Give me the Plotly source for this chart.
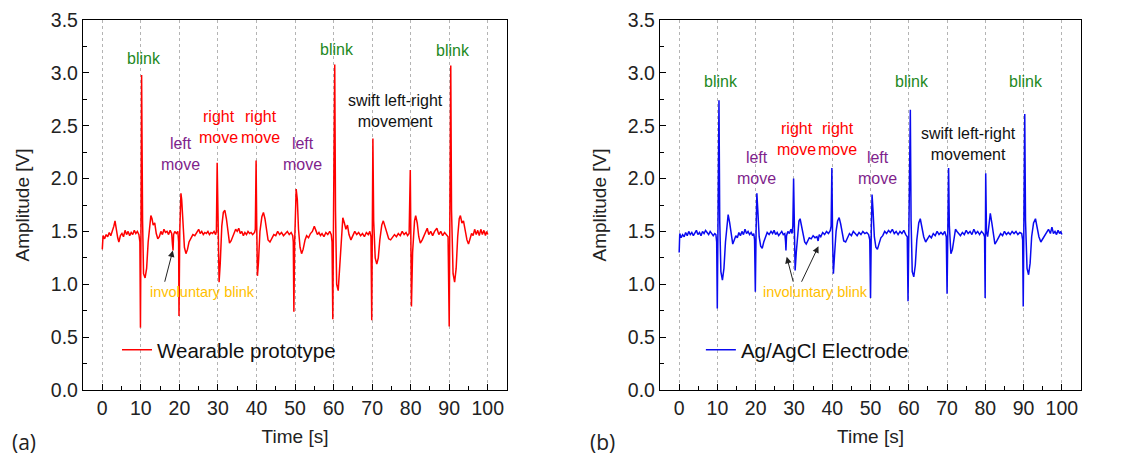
import plotly.graph_objects as go

# ---------------- data ----------------
t_wear = [0.0, 0.2, 0.6, 1.0, 1.4, 1.8, 2.2, 2.6, 3.0, 3.3, 3.6, 4.0, 4.3, 4.7, 5.1, 5.5, 5.9, 6.3, 6.7, 7.1,
          7.5, 7.9, 8.3, 8.7, 9.1, 9.5, 9.75, 9.9, 10.05, 10.2, 10.45, 10.7, 11.1, 11.5, 11.9, 12.3, 12.6, 12.9,
          13.2, 13.6, 14.0, 14.4, 14.8, 15.2, 15.6, 16.0, 16.4, 16.8, 17.2, 17.6, 18.0, 18.2, 18.35, 18.5, 18.8,
          19.2, 19.6, 19.8, 19.9, 20.1, 20.4, 20.6, 20.9, 21.3, 21.7, 22.1, 22.5, 23.0, 23.5, 24.0, 24.5, 25.0,
          25.4, 25.8, 26.2, 26.6, 27.0, 27.4, 27.8, 28.2, 28.6, 29.0, 29.4, 29.6, 29.8, 30.0, 30.3, 30.6, 31.0,
          31.4, 31.8, 32.2, 32.6, 33.0, 33.4, 33.8, 34.2, 34.6, 35.0, 35.4, 35.8, 36.2, 36.6, 37.0, 37.4, 37.8,
          38.2, 38.6, 39.0, 39.5, 39.7, 39.9, 40.05, 40.25, 40.5, 40.9, 41.4, 41.8, 42.2, 42.6, 43.0, 43.5, 44.0,
          44.5, 45.0, 45.5, 46.0, 46.5, 47.0, 47.5, 48.0, 48.5, 49.0, 49.4, 49.55, 49.7, 49.9, 50.3, 50.6, 50.9,
          51.3, 51.7, 52.1, 52.6, 53.0, 53.5, 54.0, 54.5, 55.0, 55.4, 55.8, 56.2, 56.6, 57.0, 57.5, 58.0, 58.5,
          59.0, 59.4, 59.6, 59.8, 60.0, 60.3, 60.5, 60.8, 61.2, 61.6, 62.0, 62.4, 62.8, 63.2, 63.6, 64.0, 64.5,
          65.0, 65.5, 66.0, 66.5, 67.0, 67.5, 68.0, 68.5, 69.0, 69.4, 69.7, 69.9, 70.05, 70.2, 70.4, 70.8, 71.2,
          71.6, 72.0, 72.5, 72.9, 73.3, 73.8, 74.3, 74.8, 75.3, 75.8, 76.3, 76.8, 77.3, 77.8, 78.3, 78.8, 79.2,
          79.6, 79.9, 80.05, 80.2, 80.5, 81.0, 81.3, 81.7, 82.1, 82.5, 83.0, 83.5, 84.0, 84.3, 84.7, 85.2, 85.7,
          86.2, 86.8, 87.3, 87.8, 88.3, 88.8, 89.3, 89.7, 90.0, 90.2, 90.4, 90.6, 91.0, 91.4, 91.8, 92.2, 92.6,
          92.9, 93.3, 93.7, 94.1, 94.6, 95.0, 95.4, 95.8, 96.2, 96.6, 97.0, 97.4, 97.8, 98.2, 98.6, 99.0, 99.4,
          99.7, 100.0]
v_wear = [1.33, 1.46, 1.43, 1.47, 1.45, 1.49, 1.46, 1.50, 1.55, 1.60, 1.52, 1.44, 1.40, 1.46, 1.48, 1.45, 1.51,
          1.47, 1.50, 1.46, 1.49, 1.47, 1.51, 1.48, 1.50, 1.47, 1.40, 0.59, 1.60, 2.98, 1.60, 1.10, 1.06, 1.15,
          1.40, 1.55, 1.65, 1.62, 1.56, 1.58, 1.48, 1.43, 1.45, 1.50, 1.47, 1.52, 1.49, 1.50, 1.47, 1.51, 1.48,
          1.38, 1.32, 1.47, 1.50, 1.48, 1.50, 1.40, 0.70, 1.50, 1.86, 1.80, 1.55, 1.35, 1.29, 1.33, 1.40, 1.44,
          1.47, 1.46, 1.49, 1.52, 1.48, 1.50, 1.47, 1.49, 1.48, 1.50, 1.47, 1.49, 1.48, 1.50, 1.47, 1.50, 2.15,
          1.60, 1.02, 1.20, 1.55, 1.68, 1.70, 1.62, 1.48, 1.39, 1.41, 1.45, 1.48, 1.52, 1.50, 1.53, 1.48, 1.50,
          1.46, 1.49, 1.47, 1.50, 1.48, 1.49, 1.47, 1.49, 1.52, 2.17, 1.60, 1.08, 1.20, 1.50, 1.64, 1.68, 1.62,
          1.50, 1.42, 1.40, 1.44, 1.47, 1.46, 1.50, 1.47, 1.49, 1.46, 1.48, 1.50, 1.47, 1.49, 1.46, 1.40, 0.74,
          1.40, 1.90, 1.80, 1.52, 1.35, 1.29, 1.33, 1.42, 1.46, 1.44, 1.48, 1.50, 1.55, 1.51, 1.47, 1.49, 1.46,
          1.48, 1.45, 1.49, 1.47, 1.50, 1.47, 1.40, 0.67, 1.70, 3.08, 1.70, 1.00, 0.94, 1.15, 1.45, 1.63, 1.58,
          1.52, 1.56, 1.47, 1.42, 1.46, 1.50, 1.47, 1.49, 1.46, 1.48, 1.45, 1.49, 1.47, 1.50, 1.45, 0.66, 1.50,
          2.38, 1.60, 1.25, 1.19, 1.25, 1.42, 1.56, 1.60, 1.55, 1.47, 1.43, 1.42, 1.45, 1.47, 1.45, 1.48, 1.46,
          1.50, 1.47, 1.49, 1.46, 1.48, 2.08, 1.40, 0.79, 1.30, 1.60, 1.65, 1.58, 1.45, 1.39, 1.42, 1.47, 1.50,
          1.53, 1.47, 1.50, 1.46, 1.50, 1.53, 1.47, 1.50, 1.46, 1.49, 1.47, 1.45, 0.60, 1.60, 3.07, 1.70, 1.10,
          1.02, 1.15, 1.45, 1.62, 1.65, 1.58, 1.60, 1.52, 1.42, 1.38, 1.42, 1.48, 1.46, 1.52, 1.47, 1.51, 1.46,
          1.52, 1.47, 1.51, 1.46, 1.50, 1.47]

t_agcl = [0.0, 0.15, 0.5, 0.9, 1.3, 1.7, 2.1, 2.5, 2.9, 3.3, 3.7, 4.1, 4.5, 4.9, 5.3, 5.7, 6.1, 6.5, 6.9, 7.3,
          7.7, 8.1, 8.5, 8.9, 9.3, 9.6, 9.8, 9.96, 10.15, 10.4, 10.6, 10.9, 11.3, 11.7, 12.1, 12.5, 12.8, 13.2,
          13.6, 14.0, 14.4, 14.8, 15.2, 15.6, 16.0, 16.4, 16.8, 17.2, 17.6, 18.0, 18.4, 18.8, 19.2, 19.5, 19.7,
          19.9, 20.1, 20.3, 20.55, 20.9, 21.3, 21.7, 22.1, 22.6, 23.0, 23.5, 24.0, 24.4, 24.8, 25.2, 25.6, 26.0,
          26.4, 26.8, 27.2, 27.6, 27.8, 27.9, 28.05, 28.4, 28.8, 29.2, 29.5, 29.7, 29.9, 30.1, 30.3, 30.6, 31.0,
          31.3, 31.6, 32.0, 32.4, 32.8, 33.2, 33.6, 34.0, 34.5, 35.0, 35.5, 36.0, 36.3, 36.6, 37.0, 37.5, 38.0,
          38.5, 39.0, 39.5, 39.7, 39.9, 40.1, 40.3, 40.6, 41.0, 41.4, 41.8, 42.2, 42.6, 43.0, 43.5, 44.0, 44.5,
          45.0, 45.5, 46.0, 46.5, 47.0, 47.5, 48.0, 48.5, 49.0, 49.5, 49.8, 50.0, 50.2, 50.4, 50.65, 51.0, 51.4,
          51.8, 52.2, 52.7, 53.2, 53.7, 54.2, 54.7, 55.2, 55.7, 56.2, 56.7, 57.2, 57.7, 58.2, 58.7, 59.2, 59.6,
          59.8, 60.0, 60.4, 60.6, 60.9, 61.3, 61.7, 62.1, 62.6, 63.0, 63.4, 63.9, 64.4, 64.9, 65.4, 65.9, 66.4,
          66.9, 67.4, 67.9, 68.4, 68.9, 69.4, 69.8, 70.0, 70.2, 70.4, 70.6, 71.0, 71.4, 71.8, 72.2, 72.6, 73.0,
          73.5, 74.0, 74.5, 75.0, 75.5, 76.0, 76.5, 77.0, 77.5, 78.0, 78.5, 79.0, 79.5, 79.8, 79.95, 80.1, 80.3,
          80.6, 81.0, 81.3, 81.7, 82.1, 82.5, 83.0, 83.5, 84.0, 84.5, 85.0, 85.5, 86.0, 86.5, 87.0, 87.5, 88.0,
          88.5, 89.0, 89.5, 89.75, 89.9, 90.1, 90.3, 90.5, 90.9, 91.3, 91.7, 92.1, 92.6, 93.1, 93.5, 94.0, 94.5,
          95.0, 95.5, 96.0, 96.5, 97.0, 97.4, 97.8, 98.2, 98.6, 99.0, 99.4, 99.7, 100.0]
v_agcl = [1.30, 1.48, 1.44, 1.47, 1.45, 1.49, 1.46, 1.50, 1.47, 1.49, 1.46, 1.48, 1.51, 1.47, 1.49, 1.46, 1.50,
          1.48, 1.51, 1.49, 1.47, 1.50, 1.48, 1.46, 1.48, 1.47, 1.40, 0.77, 1.60, 2.74, 1.60, 1.12, 1.04, 1.15,
          1.40, 1.60, 1.66, 1.58, 1.45, 1.38, 1.42, 1.46, 1.44, 1.49, 1.46, 1.50, 1.47, 1.52, 1.48, 1.50, 1.47,
          1.49, 1.46, 1.48, 1.42, 0.93, 1.50, 1.86, 1.70, 1.45, 1.36, 1.34, 1.40, 1.46, 1.49, 1.47, 1.50, 1.48,
          1.51, 1.47, 1.49, 1.46, 1.48, 1.50, 1.47, 1.48, 1.40, 1.32, 1.46, 1.50, 1.48, 1.52, 1.48, 1.55, 2.00,
          1.40, 1.13, 1.30, 1.52, 1.60, 1.62, 1.55, 1.45, 1.40, 1.38, 1.41, 1.44, 1.43, 1.46, 1.44, 1.45, 1.41,
          1.47, 1.45, 1.49, 1.47, 1.50, 1.48, 1.51, 1.55, 2.10, 1.40, 1.10, 1.28, 1.50, 1.60, 1.63, 1.57, 1.47,
          1.41, 1.40, 1.44, 1.48, 1.46, 1.50, 1.48, 1.46, 1.49, 1.47, 1.50, 1.48, 1.49, 1.47, 1.42, 0.87, 1.50,
          1.85, 1.70, 1.45, 1.35, 1.33, 1.38, 1.44, 1.46, 1.50, 1.48, 1.51, 1.49, 1.52, 1.48, 1.50, 1.47, 1.50,
          1.48, 1.51, 1.47, 1.45, 0.84, 1.60, 2.65, 1.60, 1.12, 1.07, 1.18, 1.42, 1.58, 1.62, 1.55, 1.45, 1.40,
          1.43, 1.46, 1.44, 1.48, 1.46, 1.50, 1.47, 1.49, 1.47, 1.50, 1.45, 0.91, 1.50, 2.10, 1.55, 1.29, 1.33,
          1.45, 1.52, 1.50, 1.48, 1.46, 1.49, 1.47, 1.51, 1.48, 1.50, 1.47, 1.52, 1.48, 1.50, 1.47, 1.50, 1.48,
          1.45, 0.87, 2.05, 1.50, 1.45, 1.60, 1.67, 1.58, 1.45, 1.38, 1.41, 1.45, 1.48, 1.46, 1.50, 1.47, 1.49,
          1.47, 1.50, 1.48, 1.50, 1.47, 1.49, 1.48, 1.42, 0.79, 1.50, 2.61, 1.60, 1.15, 1.09, 1.20, 1.45, 1.58,
          1.62, 1.55, 1.45, 1.40, 1.43, 1.47, 1.50, 1.52, 1.48, 1.54, 1.48, 1.50, 1.47, 1.51, 1.48, 1.50, 1.47]

x_ticks = [0, 10, 20, 30, 40, 50, 60, 70, 80, 90, 100]
y_ticks = [0.0, 0.5, 1.0, 1.5, 2.0, 2.5, 3.0, 3.5]

# event labels: (text, t, v, colour)
GREEN, PURPLE, RED, BLACK, GOLD = "#1f8a1f", "#7f1f8c", "#ff0000", "#111111", "#ffc000"
labels_a = [("blink", 10.9, 3.14, GREEN), ("left<br>move", 20.2, 2.23, PURPLE),
            ("right<br>move", 30.1, 2.49, RED), ("right<br>move", 41.1, 2.49, RED),
            ("left<br>move", 51.9, 2.23, PURPLE), ("blink", 60.8, 3.22, GREEN),
            ("swift left-right<br>movement", 76.1, 2.64, BLACK), ("blink", 90.9, 3.21, GREEN)]
labels_b = [("blink", 10.9, 2.92, GREEN), ("left<br>move", 20.3, 2.10, PURPLE),
            ("right<br>move", 30.7, 2.37, RED), ("right<br>move", 41.4, 2.37, RED),
            ("left<br>move", 51.8, 2.10, PURPLE), ("blink", 60.9, 2.92, GREEN),
            ("swift left-right<br>movement", 75.6, 2.33, BLACK), ("blink", 90.7, 2.92, GREEN)]
# involuntary blink label and arrows (tail t, tail v, tip t, tip v)
invol_a = (26.0, 0.93)
arrows_a = [(16.1, 1.01, 18.3, 1.32)]
invol_b = (35.5, 0.93)
arrows_b = [(29.9, 1.01, 28.1, 1.26), (31.8, 1.01, 36.4, 1.36)]

FONT = "Liberation Sans, Arial, sans-serif"

fig = go.Figure()
fig.add_trace(go.Scatter(x=t_wear, y=v_wear, mode="lines", name="Wearable prototype",
                         line=dict(color="#ff0000", width=1.5), xaxis="x", yaxis="y", legend="legend"))
fig.add_trace(go.Scatter(x=t_agcl, y=v_agcl, mode="lines", name="Ag/AgCl Electrode",
                         line=dict(color="#0a0af0", width=1.5), xaxis="x2", yaxis="y2", legend="legend2"))

def xax(domain, anchor):
    return dict(domain=domain, anchor=anchor, range=[-5, 105], tickmode="array", tickvals=x_ticks,
                automargin=False,
                ticks="inside", ticklen=6, tickwidth=1.2, tickcolor="black",
                minor=dict(dtick=5, tick0=0, ticks="inside", ticklen=3.5, tickcolor="black", showgrid=False),
                showline=True, linecolor="black", linewidth=1.4, mirror=True,
                showgrid=True, gridcolor="#b4b4b4", griddash="dot", gridwidth=1,
                zeroline=False, tickfont=dict(family=FONT, size=19.5, color="#222"),
                title=dict(text="Time [s]", font=dict(family=FONT, size=19, color="#222"), standoff=12))

def yax(anchor):
    return dict(domain=[0.1485, 0.9563], anchor=anchor, range=[0, 3.5], tickmode="array",
                automargin=False,
                tickvals=y_ticks, ticktext=[f"{v:.1f}" for v in y_ticks],
                ticks="inside", ticklen=6, tickwidth=1.2, tickcolor="black",
                minor=dict(dtick=0.25, tick0=0, ticks="inside", ticklen=3.5, tickcolor="black", showgrid=False),
                showline=True, linecolor="black", linewidth=1.4, mirror=True,
                showgrid=False, zeroline=False, tickfont=dict(family=FONT, size=19.5, color="#222"),
                title=dict(text="Amplitude [V]", font=dict(family=FONT, size=19, color="#222"), standoff=16))

annotations = []
for labels, xr, yr in [(labels_a, "x", "y"), (labels_b, "x2", "y2")]:
    for text, tx, ty, col in labels:
        annotations.append(dict(text=text, x=tx, y=ty, xref=xr, yref=yr, showarrow=False,
                                font=dict(family=FONT, size=16, color=col)))
for (ix, iy), arrows, xr, yr in [(invol_a, arrows_a, "x", "y"), (invol_b, arrows_b, "x2", "y2")]:
    annotations.append(dict(text="involuntary blink", x=ix, y=iy, xref=xr, yref=yr, showarrow=False,
                            font=dict(family=FONT, size=14.5, color=GOLD)))
    for tx0, ty0, tx1, ty1 in arrows:
        annotations.append(dict(text="", x=tx1, y=ty1, ax=tx0, ay=ty0, xref=xr, yref=yr,
                                axref=xr, ayref=yr, showarrow=True, arrowhead=2, arrowsize=1.3,
                                arrowwidth=1, arrowcolor="#222"))
annotations.append(dict(text="(a)", x=10 / 1125, y=0.035, xref="paper", yref="paper", xanchor="left",
                        yanchor="middle", showarrow=False, font=dict(family="Open Sans, sans-serif", size=21, color="#222")))
annotations.append(dict(text="(b)", x=588 / 1125, y=0.035, xref="paper", yref="paper", xanchor="left",
                        yanchor="middle", showarrow=False, font=dict(family="Open Sans, sans-serif", size=21, color="#222")))

legend_style = dict(yanchor="middle", xanchor="left", bgcolor="rgba(0,0,0,0)", borderwidth=0,
                    font=dict(family=FONT, size=20.5, color="#111"), itemwidth=30)

fig.update_layout(
    width=1125, height=458, margin=dict(l=0, r=0, t=0, b=0, autoexpand=False),
    paper_bgcolor="white", plot_bgcolor="white",
    xaxis=xax([0.0738, 0.4507], "y"), yaxis=yax("x"),
    xaxis2=xax([0.5867, 0.9609], "y2"), yaxis2=yax("x2"),
    annotations=annotations, showlegend=True,
    legend=dict(x=0.104, y=0.236, **legend_style),
    legend2=dict(x=0.623, y=0.236, **legend_style),
)

fig.write_html("out.html")
